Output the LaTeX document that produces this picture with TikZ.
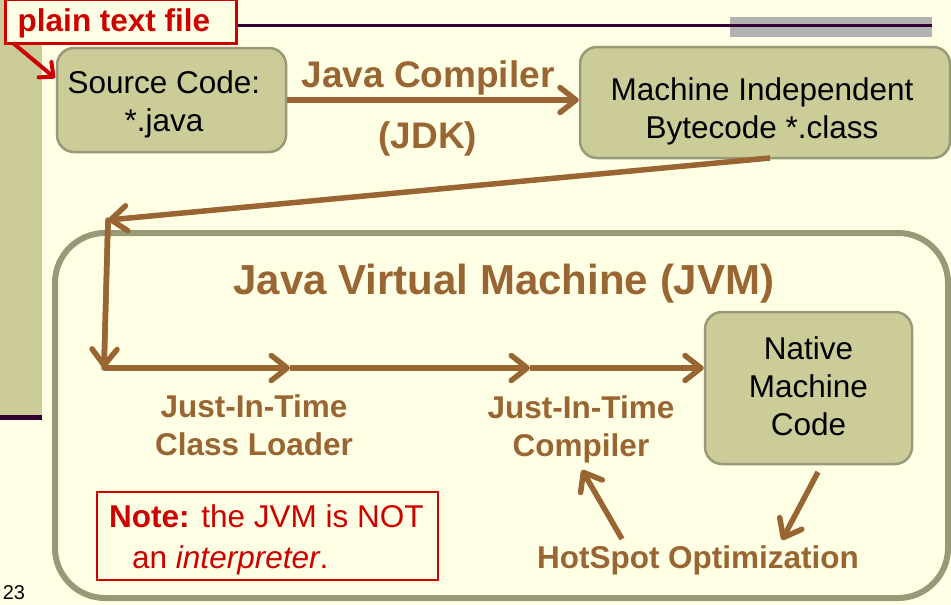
\documentclass[tikz,border=0pt]{standalone}
\usepackage{fontspec}
\setmainfont{Liberation Sans}
\usetikzlibrary{arrows.meta}
\definecolor{bgyellow}{HTML}{FFFFE5}
\definecolor{boxfill}{HTML}{CCCC99}
\definecolor{boxline}{HTML}{999977}
\definecolor{brownc}{HTML}{996633}
\definecolor{redc}{HTML}{CC0000}
\definecolor{purplec}{HTML}{330033}
\definecolor{grayc}{HTML}{B2B2B2}
\tikzset{
  body/.style={font=\fontsize{31.5}{38}\selectfont},
  olivebox/.style={draw=boxline, fill=boxfill, line width=2.5pt, rounded corners=17pt, inner sep=0pt},
  boxtext/.style={body, text=black, align=center, inner sep=0pt},
  brownlabel/.style={text=brownc, font=\bfseries\fontsize{31.5}{38}\selectfont, align=center, inner sep=0pt},
  arr/.style={draw=brownc, line width=5.5pt, -{Straight Barb[length=16pt,width=25pt,round]}},
  plainline/.style={draw=brownc, line width=5.5pt, line cap=round},
  redarr/.style={draw=redc, line width=4pt, -{Straight Barb[length=11pt,width=20pt,round]}},
}
\begin{document}
\begin{tikzpicture}[x=1pt,y=-1pt]
\useasboundingbox (0,0) rectangle (951,605);
\clip (0,0) rectangle (951,605);
\fill[bgyellow] (0,0) rectangle (951,605);
% sidebar
\fill[boxfill] (0,0) rectangle (42,415);
\fill[purplec] (0,415) rectangle (42,420);
% top rule
\fill[grayc] (730,17) rectangle (932,37);
\fill[purplec] (238,24) rectangle (932,27);
% plain text file box
\node[draw=redc, line width=3pt, fill=bgyellow, minimum width=231pt, minimum height=44pt, inner sep=0pt] (plain) at (120.5,21) {};
\node[text=redc, font=\bfseries\fontsize{31.5}{38}\selectfont, inner sep=0pt] (plaintext) at (114,23) {plain text file};
% boxes
\node[olivebox, minimum width=229pt, minimum height=104pt] (src) at (171.5,100) {};
\node[boxtext] (srctext) at (164,104) {Source Code:\\*.java};
\node[olivebox, minimum width=370pt, minimum height=111pt] (bc) at (765,102.5) {};
\node[boxtext] (bctext) at (762,111) {Machine Independent\\Bytecode *.class};
% JVM outer
\node[draw=boxline, line width=6pt, rounded corners=50pt, minimum width=893pt, minimum height=365pt, inner sep=0pt] (jvm) at (501.5,415.5) {};
\node[text=brownc, font=\bfseries\fontsize{42}{48}\selectfont, inner sep=0pt] (jvmtitle) at (504,284) {Java Virtual Machine (JVM)};
\node[olivebox, minimum width=207pt, minimum height=152pt] (native) at (808.5,388) {};
\node[boxtext] (nativetext) at (808.5,386) {Native\\Machine\\Code};
% labels
\node[text=brownc, font=\bfseries\fontsize{37}{42}\selectfont, inner sep=0pt] (jc) at (428,78) {Java Compiler};
\node[text=brownc, font=\bfseries\fontsize{37}{42}\selectfont, inner sep=0pt] (jdk) at (428,139) {(JDK)};
\node[brownlabel] (loader) at (254,425) {Just-In-Time\\Class Loader};
\node[brownlabel] (jit) at (581,429) {Just-In-Time\\Compiler};
\node[brownlabel] (hot) at (698,560) {HotSpot Optimization};
% note
\node[draw=redc, line width=2.5pt, minimum width=341pt, minimum height=88pt, inner sep=0pt] (note) at (267.5,536) {};
\node[anchor=west, text=redc, align=left, inner sep=0pt, font=\fontsize{31.5}{41}\selectfont] (notetext) at (109,540)
  {\textbf{Note:} the JVM is NOT\\\hspace*{23pt}an \textit{interpreter}.};
\node[font=\fontsize{20}{24}\selectfont, inner sep=0pt] (pg) at (14,593) {23};
% connectors
\coordinate (c1) at (108,220);
\coordinate (c2) at (104,368);
\coordinate (m1) at (290,368);
\coordinate (m2) at (530,368);
\coordinate (h1) at (622,539);
\coordinate (h2) at (582,470);
\coordinate (n1) at (818,472);
\coordinate (n2) at (782,540);
\coordinate (bcs) at (770,158);
\coordinate (r1) at (13,43);
\coordinate (r2) at (55,78);
\draw[arr] (src.east) -- (src.east -| bc.west);
\draw[arr] (bcs) -- (c1);
\draw[plainline] (c1) -- (c2);
\draw[arr] (c1) -- (c2);
\draw[arr] (c2) -- (m1);
\draw[arr] (m1) -- (m2);
\draw[arr] (m2) -- (m2 -| native.west);
\draw[arr] (h1) -- (h2);
\draw[arr] (n1) -- (n2);
\draw[redarr] (r1) -- (r2);
\end{tikzpicture}
\end{document}
